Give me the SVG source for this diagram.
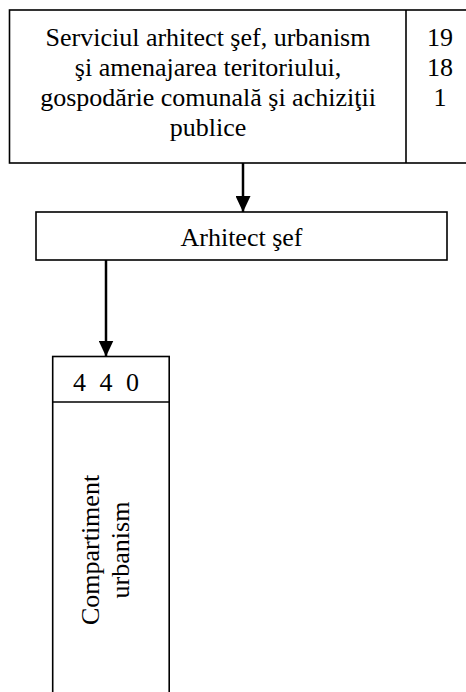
<svg xmlns="http://www.w3.org/2000/svg" width="466" height="692" viewBox="0 0 466 692">
<style>
.box{fill:#fff;stroke:#000;stroke-width:1.6}
.t{font-family:'Liberation Serif','Times New Roman','DejaVu Serif',serif;font-size:26px;fill:#000;text-anchor:middle}
.conn{stroke:#000;stroke-width:2.5;fill:none}
</style>
<defs>
<marker id="ah" viewBox="0 0 16 15" refX="16" refY="7.5" markerWidth="16" markerHeight="15" markerUnits="userSpaceOnUse" orient="auto">
<path d="M0,0 L16,7.5 L0,15 Z" fill="#000"/>
</marker>
</defs>
<rect width="466" height="692" fill="#fff"/>
<g id="node-serviciu" font-family="Liberation Serif, serif">
<rect class="box" x="9.5" y="10" width="466" height="153"/>
<line class="box" x1="406" y1="10" x2="406" y2="163"/>
<text class="t" x="208" y="46">Serviciul arhitect şef, urbanism</text>
<text class="t" x="208" y="76">şi amenajarea teritoriului,</text>
<text class="t" x="208" y="106">gospodărie comunală şi achiziţii</text>
<text class="t" x="208" y="136">publice</text>
<text class="t" x="440" y="46">19</text>
<text class="t" x="440" y="76">18</text>
<text class="t" x="440" y="106">1</text>
</g>
<g id="node-arhitect">
<rect class="box" x="36" y="212" width="411" height="48"/>
<text class="t" x="241.5" y="246">Arhitect şef</text>
</g>
<g id="node-compartiment">
<rect class="box" x="52.7" y="356.5" width="116.5" height="345"/>
<line class="box" x1="52.7" y1="402" x2="169.2" y2="402"/>
<text class="t" x="106" y="391" word-spacing="7">4 4 0</text>
<text class="t" transform="translate(99,550) rotate(-90)">Compartiment</text>
<text class="t" transform="translate(129,550) rotate(-90)">urbanism</text>
</g>
<g id="connectors">
<line class="conn" x1="243" y1="163" x2="243" y2="212" marker-end="url(#ah)"/>
<line class="conn" x1="106" y1="260" x2="106" y2="356.5" marker-end="url(#ah)"/>
</g>
</svg>
